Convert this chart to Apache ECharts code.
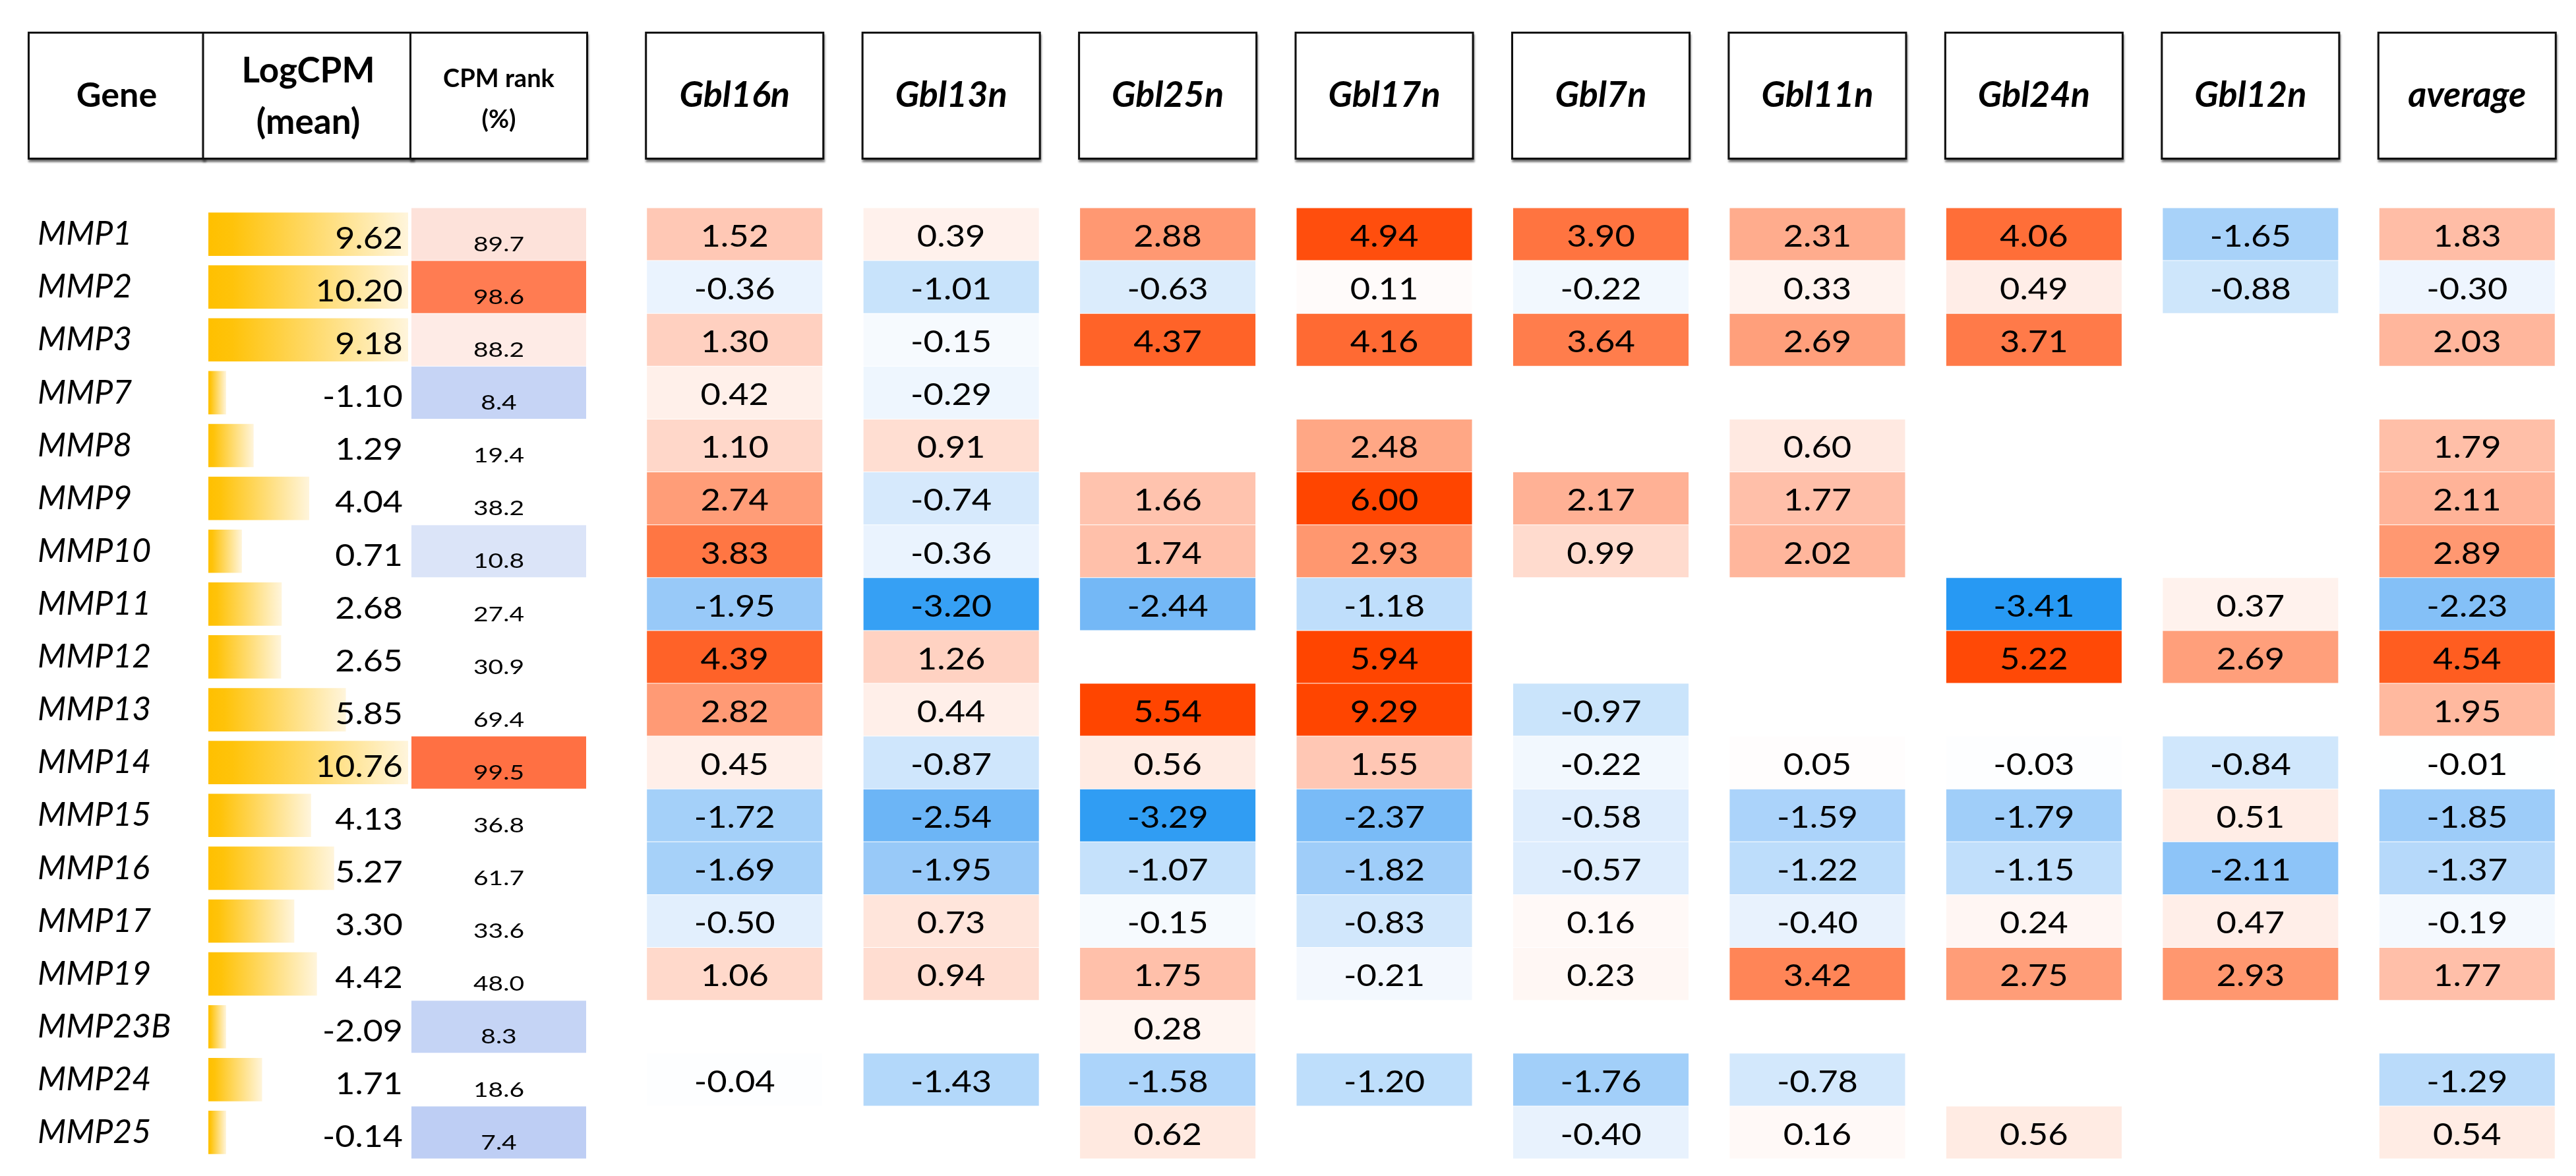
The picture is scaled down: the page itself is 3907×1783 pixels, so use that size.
<!DOCTYPE html>
<html><head><meta charset="utf-8">
<script src="https://cdn.jsdelivr.net/npm/echarts@6/dist/echarts.min.js"></script>
<style>html,body{margin:0;padding:0;background:#fff}#c{width:3907px;height:1783px}</style>
</head><body><div id="c"></div>
<script>
// ---------------- data ----------------
const genes = ['MMP1','MMP2','MMP3','MMP7','MMP8','MMP9','MMP10','MMP11','MMP12','MMP13','MMP14','MMP15','MMP16','MMP17','MMP19','MMP23B','MMP24','MMP25'];
const logCPM = [9.62,10.20,9.18,-1.10,1.29,4.04,0.71,2.68,2.65,5.85,10.76,4.13,5.27,3.30,4.42,-2.09,1.71,-0.14];
const cpmRank = [89.7,98.6,88.2,8.4,19.4,38.2,10.8,27.4,30.9,69.4,99.5,36.8,61.7,33.6,48.0,8.3,18.6,7.4];
const columns = ['Gbl16n','Gbl13n','Gbl25n','Gbl17n','Gbl7n','Gbl11n','Gbl24n','Gbl12n','average'];
const gbl16n  = [1.52,-0.36,1.30,0.42,1.10,2.74,3.83,-1.95,4.39,2.82,0.45,-1.72,-1.69,-0.50,1.06,null,-0.04,null];
const gbl13n  = [0.39,-1.01,-0.15,-0.29,0.91,-0.74,-0.36,-3.20,1.26,0.44,-0.87,-2.54,-1.95,0.73,0.94,null,-1.43,null];
const gbl25n  = [2.88,-0.63,4.37,null,null,1.66,1.74,-2.44,null,5.54,0.56,-3.29,-1.07,-0.15,1.75,0.28,-1.58,0.62];
const gbl17n  = [4.94,0.11,4.16,null,2.48,6.00,2.93,-1.18,5.94,9.29,1.55,-2.37,-1.82,-0.83,-0.21,null,-1.20,null];
const gbl7n   = [3.90,-0.22,3.64,null,null,2.17,0.99,null,null,-0.97,-0.22,-0.58,-0.57,0.16,0.23,null,-1.76,-0.40];
const gbl11n  = [2.31,0.33,2.69,null,0.60,1.77,2.02,null,null,null,0.05,-1.59,-1.22,-0.40,3.42,null,-0.78,0.16];
const gbl24n  = [4.06,0.49,3.71,null,null,null,null,-3.41,5.22,null,-0.03,-1.79,-1.15,0.24,2.75,null,null,0.56];
const gbl12n  = [-1.65,-0.88,null,null,null,null,null,0.37,2.69,null,-0.84,0.51,-2.11,0.47,2.93,null,null,null];
const average = [1.83,-0.30,2.03,null,1.79,2.11,2.89,-2.23,4.54,1.95,-0.01,-1.85,-1.37,-0.19,1.77,null,-1.29,0.54];
const columnValues = [gbl16n,gbl13n,gbl25n,gbl17n,gbl7n,gbl11n,gbl24n,gbl12n,average];

// ---------------- build series data ----------------
const mainData = [];
columnValues.forEach((col, j) => col.forEach((v, i) => { if (v !== null) mainData.push([j, i, v]); }));
const cpmData = cpmRank.map((v, i) => [0, i, v]);
const barData = logCPM.map((v, i) => [v, i]);

// Excel-style data bar scale
const BAR_AXIS_MIN = -0.95, BAR_AXIS_MAX = 8.93, BAR_MIN_VAL = -0.07;
const FONT = 'Lato';

const chart = echarts.init(document.getElementById('c'), null, {renderer: 'canvas'});

function headerLabel(extra) {
  return Object.assign({
    show: true, interval: 0, margin: 76, color: '#000', fontFamily: FONT, fontWeight: 'bold',
    backgroundColor: '#fff', borderColor: '#111', borderWidth: 3,
    shadowColor: 'rgba(0,0,0,0.45)', shadowBlur: 3, shadowOffsetX: 1, shadowOffsetY: 4,
    padding: 0, align: 'center'
  }, extra);
}
const hidden = {axisLine: {show: false}, axisTick: {show: false}, splitLine: {show: false}};

const GTOP = 315, GH = 1442;

chart.setOption({
  animation: false,
  backgroundColor: '#fff',
  textStyle: {fontFamily: FONT},
  grid: [
    {left: 45, top: GTOP, width: 264, height: GH},
    {left: 316, top: GTOP, width: 303, height: GH},
    {left: 624, top: GTOP, width: 265, height: GH},
    {left: 950, top: GTOP, width: 2956, height: GH}
  ],
  xAxis: [
    Object.assign({type: 'category', gridIndex: 0, position: 'top', data: ['Gene'],
      axisLabel: headerLabel({width: 264, fontSize: 52, lineHeight: 188})}, hidden),
    Object.assign({type: 'value', gridIndex: 1, min: BAR_AXIS_MIN, max: BAR_AXIS_MAX, show: false}, hidden),
    Object.assign({type: 'category', gridIndex: 1, position: 'top', data: ['LogCPM\n(mean)'],
      axisLabel: headerLabel({width: 316, fontSize: 53, lineHeight: 78, padding: [18, 0, 14, 0]})}, hidden),
    Object.assign({type: 'category', gridIndex: 2, position: 'top', data: ['CPM rank\n(%)'],
      axisLabel: headerLabel({width: 265, fontSize: 38, lineHeight: 62, padding: [38, 0, 26, 0]})}, hidden),
    Object.assign({type: 'category', gridIndex: 3, position: 'top', data: columns,
      axisLabel: headerLabel({width: 266, fontSize: 54, fontStyle: 'italic', lineHeight: 188})}, hidden)
  ],
  yAxis: [
    Object.assign({type: 'category', gridIndex: 0, inverse: true, data: genes,
      axisLabel: {show: true, inside: true, align: 'left', margin: 12, interval: 0, padding: [12, 0, 0, 0],
        fontSize: 50, fontStyle: 'italic', color: '#000', fontFamily: FONT}}, hidden),
    Object.assign({type: 'category', gridIndex: 1, inverse: true, data: genes, show: false}, hidden),
    Object.assign({type: 'category', gridIndex: 2, inverse: true, data: genes, show: false}, hidden),
    Object.assign({type: 'category', gridIndex: 3, inverse: true, data: genes, show: false}, hidden)
  ],
  visualMap: [
    {type: 'continuous', show: false, seriesIndex: 2, dimension: 2, min: -3.5, max: 5.5,
     inRange: {color: ['#2196F3','#44A6F4','#6FB6F6','#95C8F8','#B0D6FA','#C8E3FB','#E2EFFD','#FFFFFF',
       '#FFEDE6','#FFDBCE','#FFC9B6','#FFB79D','#FFA684','#FF946C','#FF8253','#FF703B','#FF5E22','#FF4C0A','#FF4500']}},
    {type: 'continuous', show: false, seriesIndex: 1, dimension: 2, min: 5, max: 100,
     inRange: {color: ['#A9BEF1','#D4DFF7','#FFFFFF','#FFFFFF','#FFFFFF','#FFFFFF','#FFFFFF','#FFFFFF','#FFFFFF',
       '#FFFFFF','#FFFFFF','#FFFFFF','#FFFFFF','#FFFFFF','#FFFFFF','#FFFFFF','#FFFFFF','#FDE0D8','#FFAA90','#FF6A3A']}}
  ],
  series: [
    { // LogCPM data bars
      type: 'custom', xAxisIndex: 1, yAxisIndex: 1, data: barData, encode: {x: 0, y: 1},
      renderItem(params, api) {
        const v = api.value(0), i = api.value(1);
        const s = api.coord([BAR_AXIS_MIN, i]);
        const e = api.coord([Math.min(Math.max(v, BAR_MIN_VAL), BAR_AXIS_MAX), i]);
        const h = api.size([0, 1])[1] * 0.82;
        const tx = api.coord([BAR_AXIS_MAX, i])[0] - 8;
        return {type: 'group', children: [
          {type: 'rect', shape: {x: s[0], y: s[1] - h / 2, width: e[0] - s[0], height: h},
           style: {fill: new echarts.graphic.LinearGradient(0, 0, 1, 0, [
             {offset: 0, color: '#FFC000'}, {offset: 0.12, color: '#FFC30A'}, {offset: 1, color: '#FFF5DC'}])}},
          {type: 'text', x: tx, y: s[1] + 7, scaleX: 1.13,
           style: {text: v.toFixed(2), fill: '#000', fontSize: 46, fontFamily: FONT, align: 'right', verticalAlign: 'middle'}}
        ]};
      }
    },
    { // CPM rank cells
      type: 'custom', xAxisIndex: 3, yAxisIndex: 2, data: cpmData, encode: {x: 0, y: 1},
      renderItem(params, api) {
        const c = api.coord([api.value(0), api.value(1)]);
        const sz = api.size([1, 1]);
        const w = sz[0], h = sz[1] - 1;
        return {type: 'group', children: [
          {type: 'rect', shape: {x: c[0] - w / 2, y: c[1] - h / 2, width: w, height: h}, style: {fill: api.visual('color')}},
          {type: 'text', x: c[0], y: c[1] + 16, scaleX: 1.3,
           style: {text: api.value(2).toFixed(1), fill: '#000', fontSize: 30, fontFamily: FONT, align: 'center', verticalAlign: 'middle'}}
        ]};
      }
    },
    { // fold-change heatmap
      type: 'custom', xAxisIndex: 4, yAxisIndex: 3, data: mainData, encode: {x: 0, y: 1},
      renderItem(params, api) {
        const c = api.coord([api.value(0), api.value(1)]);
        const sz = api.size([1, 1]);
        const w = sz[0] * 0.81, h = sz[1] - 1;
        return {type: 'group', children: [
          {type: 'rect', shape: {x: c[0] - w / 2, y: c[1] - h / 2, width: w, height: h}, style: {fill: api.visual('color')}},
          {type: 'text', x: c[0], y: c[1] + 4, scaleX: 1.14,
           style: {text: api.value(2).toFixed(2), fill: '#000', fontSize: 46, fontFamily: FONT, align: 'center', verticalAlign: 'middle'}}
        ]};
      }
    }
  ]
});
</script></body></html>
